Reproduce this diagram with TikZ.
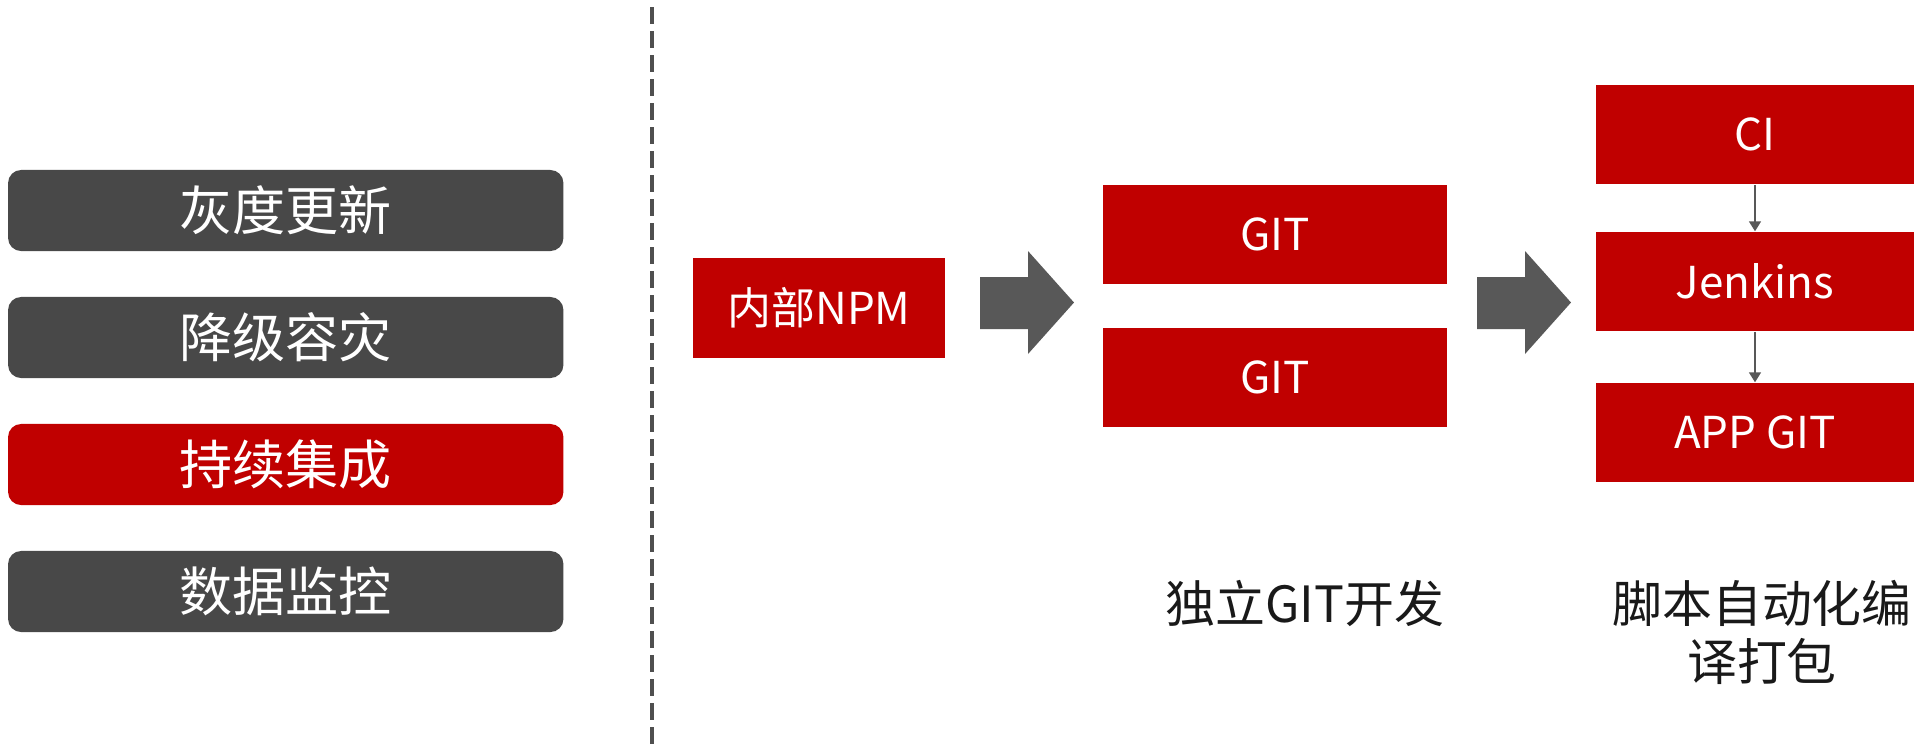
\documentclass[tikz,border=0pt]{standalone}
\usepackage{fontspec}
\setmainfont{Noto Sans CJK SC}
\usetikzlibrary{positioning,arrows.meta}

\definecolor{cired}{RGB}{192,0,0}
\definecolor{cidark}{RGB}{72,72,72}
\definecolor{ciarrow}{RGB}{88,88,88}

\tikzset{
  menubox/.style={rounded corners=0.13cm, minimum width=5.55cm, minimum height=0.81cm,
    text=white, font=\fontsize{15.1}{18}\selectfont},
  redbox/.style={fill=cired, minimum height=0.99cm, text=white,
    font=\fontsize{12.5}{15}\selectfont},
  caption/.style={text=black!90, align=center, font=\fontsize{14.2}{16.5}\selectfont},
  flow/.style={ciarrow, line width=0.45pt, -{Triangle[length=0.1cm,width=0.12cm]}}
}

\begin{document}
\begin{tikzpicture}[x=0.01cm,y=-0.01cm]
  \useasboundingbox (0,0) rectangle (1914,747);

  % Trennlinie
  \draw[ciarrow!90!black, line width=1pt, dash pattern=on 0.17cm off 0.07cm] (652,7) -- (652,747);

  % Menue links
  \foreach \txt/\col [count=\i from 0] in {灰度更新/cidark, 降级容灾/cidark, 持续集成/cired, 数据监控/cidark} {
    \node[menubox, fill=\col] (menu\i) at (285.75, 210.5+127*\i) {\txt};
  }

  % Boxen
  \node[redbox, minimum width=2.52cm] (npm) at (819,308) {内部NPM};
  \node[redbox, minimum width=3.44cm] (git1) at (1275,234.5) {GIT};
  \node[redbox, minimum width=3.44cm] (git2) at (1275,377.5) {GIT};

  \node[redbox, minimum width=3.18cm] (ci) at (1755,134.5) {CI};
  \node[redbox, minimum width=3.18cm] (jenkins) at (1755,281.5) {Jenkins};
  \node[redbox, minimum width=3.18cm] (appgit) at (1755,432.5) {APP GIT};

  \draw[flow] (ci) -- (jenkins);
  \draw[flow] (jenkins) -- (appgit);

  % grosse Pfeile
  \foreach \x in {980,1477} {
    \fill[ciarrow] (\x,277) -- (\x+48,277) -- (\x+48,251) -- (\x+94,302.5)
      -- (\x+48,354) -- (\x+48,329) -- (\x,329) -- cycle;
  }

  % Beschriftung
  \node[caption] (gitcap) at (1305,603) {独立GIT开发};
  \node[caption] (buildcap) at (1762,632) {脚本自动化编\\译打包};
\end{tikzpicture}
\end{document}
